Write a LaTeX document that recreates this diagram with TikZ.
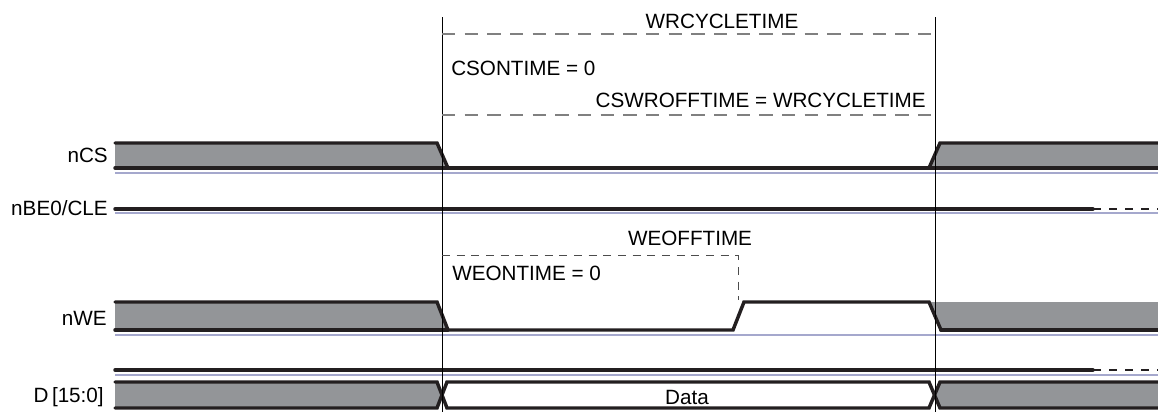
\documentclass[tikz,border=0pt]{standalone}
\usepackage{fontspec}
\setmainfont{Liberation Sans}
\usepackage{tikz}
\usetikzlibrary{positioning,calc}
\definecolor{shade}{RGB}{147,149,152}
\definecolor{sigline}{RGB}{35,31,32}
\definecolor{baseblue}{RGB}{165,168,205}
\definecolor{dashgray}{RGB}{128,128,128}
\tikzset{
    wave/.style={draw=sigline, line width=2.6pt, line join=miter, line cap=round},
    busfill/.style={fill=shade},
    refline/.style={draw=baseblue, line width=1pt},
    marker/.style={draw=black, line width=0.6pt},
    timing/.style={draw=dashgray, line width=1pt, dash pattern=on 10pt off 7pt},
    wetiming/.style={draw=black!70, line width=0.7pt, dash pattern=on 6pt off 5pt},
    undef/.style={draw=sigline, line width=0.8pt, dash pattern=on 6pt off 6pt},
    siglabel/.style={anchor=east, inner sep=0pt, font=\fontsize{15.5}{18}\selectfont},
    tlabel/.style={inner sep=0pt, font=\fontsize{15.5}{18}\selectfont},
}

\begin{document}
\begin{tikzpicture}[x=0.75pt, y=-0.75pt]
    \useasboundingbox (0,0) rectangle (1158,412);

    % signal names
    \node[siglabel] (ncs) at (108,155) {nCS};
    \node[siglabel] (nbe) at (108,208) {nBE0/CLE};
    \node[siglabel] (nwe) at (107,318) {nWE};
    \node[siglabel] (dbus) at (104,397) {D\,[15:0]};

    % timing references
    \coordinate (start) at (442,17);
    \coordinate (stop) at (935,17);
    \coordinate (weoff) at (738,255);

    % filled (don't care) regions
    \fill[busfill] (115,143) -- (437,143) -- (448,168) -- (115,168) -- cycle;
    \fill[busfill] (929,168) -- (940,143) -- (1158,143) -- (1158,168) -- cycle;
    \fill[busfill] (115,302) -- (437,302) -- (448,330) -- (115,330) -- cycle;
    \fill[busfill] (929,302) -- (941,330) -- (1158,330) -- (1158,302) -- cycle;
    \fill[busfill] (115,382) -- (437,382) -- (442,395) -- (437,408) -- (115,408) -- cycle;
    \fill[busfill] (935,395) -- (940,382) -- (1158,382) -- (1158,408) -- (940,408) -- cycle;

    % reference lines
    \draw[refline] (115,173) -- (1158,173);
    \draw[refline] (115,213) -- (1158,213);
    \draw[refline] (115,335) -- (1158,335);
    \draw[refline] (115,375) -- (1158,375);

    % nCS
    \draw[wave] (115,143) -- (437,143) -- (448,168) -- (929,168) -- (940,143) -- (1160,143);
    \draw[wave] (115,168) -- (1160,168);
    % nBE0/CLE
    \draw[wave] (115,209) -- (1093,209);
    \draw[undef] (1093,209) -- (1158,209);
    % nWE
    \draw[wave] (115,302) -- (437,302) -- (448,330) -- (733,330) -- (744,302) -- (929,302) -- (941,330) -- (1160,330);
    \draw[wave] (115,330) -- (448,330);
    \draw[wave] (941,330) -- (1160,330);
    \draw[wave] (115,370) -- (1093,370);
    \draw[undef] (1093,370) -- (1158,370);
    % D[15:0]
    \draw[wave] (115,382) -- (437,382) -- (447,408) -- (929,408) -- (940,382) -- (1160,382);
    \draw[wave] (115,408) -- (437,408) -- (447,382) -- (929,382) -- (940,408) -- (1160,408);

    % cycle markers
    \draw[marker] (start) -- (start |- 0,412);
    \draw[marker] (stop) -- (stop |- 0,412);

    % cycle timing
    \draw[timing] (start |- 0,34) -- (stop |- 0,34);
    \draw[timing] (start |- 0,115) -- (stop |- 0,115);
    \node[tlabel] (wrcycle) at (722,21) {WRCYCLETIME};
    \node[tlabel, anchor=west] (cson) at (451,68) {CSONTIME = 0};
    \node[tlabel, anchor=east] (csoff) at (926,100) {CSWROFFTIME = WRCYCLETIME};

    % write enable timing
    \draw[wetiming] (start |- weoff) -- (weoff) -- (738,300);
    \node[tlabel] (weofflbl) at (690,238) {WEOFFTIME};
    \node[tlabel, anchor=west] (weon) at (452,273) {WEONTIME = 0};

    \node[tlabel] (data) at (687,397) {Data};
\end{tikzpicture}
\end{document}
